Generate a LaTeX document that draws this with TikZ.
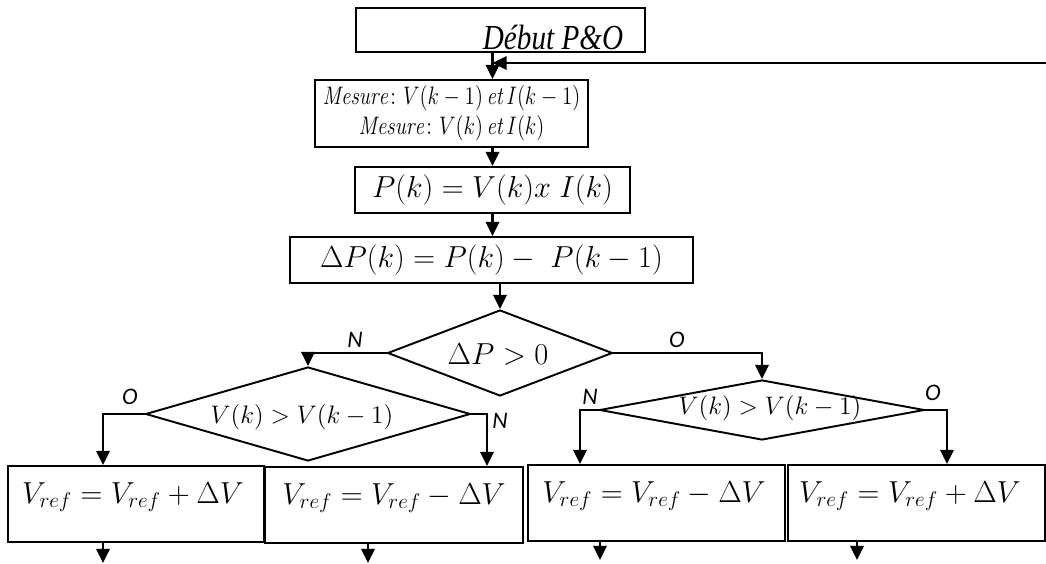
\RequirePackage{fix-cm}
\documentclass[tikz,border=0pt]{standalone}
\usepackage{amsmath,amssymb}
\usepackage{graphicx}
\usepackage{fontspec}
\newfontfamily\titlefont{Liberation Serif}
\newfontfamily\ynfont{Carlito}
\usetikzlibrary{calc,arrows.meta,shapes.geometric}
\tikzset{
  box/.style={draw=black,line width=1.1pt,inner sep=0pt},
  test/.style={diamond,draw=black,line width=1.1pt,inner sep=0pt},
  txt/.style={inner sep=0pt,font=\fontsize{17.28}{20}\selectfont},
  smalltxt/.style={inner sep=0pt,font=\fontsize{14.4}{17}\selectfont},
  flow/.style={draw=black,line width=1.5pt,-{Triangle[length=8pt,width=7.5pt]}},
  yn/.style={inner sep=0pt,font=\ynfont\itshape\fontsize{13.5}{15}\selectfont},
}
\newcommand{\narrow}[1]{\scalebox{0.83}[1]{#1}}

\begin{document}
\begin{tikzpicture}[x=0.02cm,y=-0.02cm]
\useasboundingbox (0,0) rectangle (1046,564);
% start and measure
\node[box,minimum width=5.78cm,minimum height=0.88cm] (debut) at (500.5,30) {};
\node[inner sep=0pt,font=\titlefont\itshape\fontsize{20}{22}\selectfont] (debuttxt) at (553,38) {\narrow{Début P\&O}};
\node[box,inner sep=0pt,font=\fontsize{14.4}{17}\selectfont,minimum width=5.46cm,minimum height=1.34cm,align=center] (mesure) at (451.5,113.5)
  {\narrow{$\mathit{Mesure}\colon V(k-1)\,\mathit{et}\,I(k-1)$}\\\narrow{$\mathit{Mesure}\colon V(k)\,\mathit{et}\,I(k)$}};
\node[box,txt,minimum width=5.5cm,minimum height=0.92cm] (pk) at (492.5,190) {$P(k)=V(k)x\;I(k)$};
\node[box,txt,minimum width=8.06cm,minimum height=0.92cm] (dp) at (491.5,260) {$\Delta P(k)=P(k)-\;P(k-1)$};
\coordinate (back) at (1046,63);
% tests
\node[test,minimum width=4.5cm,minimum height=1.72cm] (d0) at (500,353) {};
\node[txt] (d0txt) at (498,355) {$\Delta P>0$};
\node[test,minimum width=6.5cm,minimum height=1.88cm] (d1) at (308,414) {};
\node[smalltxt] (d1txt) at (302,417) {$V(k)>V(k-1)$};
\node[test,minimum width=6.5cm,minimum height=1.2cm] (d2) at (762,410) {};
\node[smalltxt] (d2txt) at (770,408) {$V(k)>V(k-1)$};
% updates
\node[box,minimum width=5.12cm,minimum height=1.52cm] (b1) at (136,504) {};
\node[box,minimum width=5.16cm,minimum height=1.52cm] (b2) at (394,505) {};
\node[box,minimum width=5.14cm,minimum height=1.52cm] (b3) at (656.5,503) {};
\node[box,minimum width=5.14cm,minimum height=1.52cm] (b4) at (916.5,503) {};
\node[txt] (b1txt) at (133,497) {$V_{ref}=V_{ref}+\Delta V$};
\node[txt] (b2txt) at (394,498) {$V_{ref}=V_{ref}-\Delta V$};
\node[txt] (b3txt) at (654,496) {$V_{ref}=V_{ref}-\Delta V$};
\node[txt] (b4txt) at (910,496) {$V_{ref}=V_{ref}+\Delta V$};
\coordinate (e1) at (103,563);
\coordinate (e2) at (368,563);
\coordinate (e3) at (600,560);
\coordinate (e4) at (857,560);
% connectors
\draw[flow] (debut.south -| pk.north) -- (mesure.north -| pk.north);
\draw[flow] (back) -- (back -| pk.north);
\draw[flow] (mesure.south -| pk.north) -- (pk.north);
\draw[flow] (pk.south) -- (dp.north -| pk.south);
\draw[flow] (dp.south -| d0.north) -- (d0.north);
\draw[flow] (d0.west) -| (d1.north);
\draw[flow] (d0.east) -| (d2.north);
\draw[flow] (d1.west) -| ($(b1.north)+(-33,0)$);
\draw[flow] (d1.east) -| ($(b2.north)+(93,0)$);
\draw[flow] (d2.west) -| ($(b3.north)+(-76.5,0)$);
\draw[flow] (d2.east) -| ($(b4.north)+(30.5,0)$);
\draw[flow] (b1.south -| e1) -- (e1);
\draw[flow] (b2.south -| e2) -- (e2);
\draw[flow] (b3.south -| e3) -- (e3);
\draw[flow] (b4.south -| e4) -- (e4);
% branch labels
\node[yn] (n0) at (355,340) {N};
\node[yn] (o0) at (677,340) {O};
\node[yn] (o1) at (130,397) {O};
\node[yn] (n1) at (500,421) {N};
\node[yn] (n2) at (590,397) {N};
\node[yn] (o2) at (933,393) {O};
\end{tikzpicture}
\end{document}
